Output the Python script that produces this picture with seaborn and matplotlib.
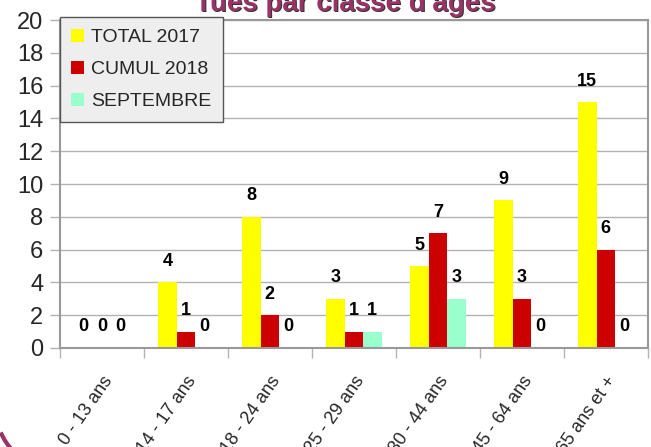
import matplotlib
matplotlib.use("Agg")
import matplotlib.pyplot as plt
import matplotlib.transforms as mtransforms
import seaborn as sns
import pandas as pd
from matplotlib.patches import Arc

categories = ["0 - 13 ans", "14 - 17 ans", "18 - 24 ans", "25 - 29 ans",
              "30 - 44 ans", "45 - 64 ans", "65 ans et +"]
series_names = ["TOTAL 2017", "CUMUL 2018", "SEPTEMBRE"]
total_2017 = [0, 4, 8, 3, 5, 9, 15]
cumul_2018 = [0, 1, 2, 1, 7, 3, 6]
septembre = [0, 0, 0, 1, 3, 0, 0]
colors = ["#ffff00", "#cc0000", "#99ffcc"]
y_ticks = list(range(0, 21, 2))
title = "Tués par classe d'âges"

rows = []
for name, vals in zip(series_names, [total_2017, cumul_2018, septembre]):
    for c, v in zip(categories, vals):
        rows.append({"cat": c, "serie": name, "val": v})
df = pd.DataFrame(rows)

sns.set_theme(style="white")
plt.rcParams["font.family"] = ["Liberation Sans", "DejaVu Sans"]

fig = plt.figure(figsize=(6.51, 4.47), dpi=100)
ax = fig.add_axes([0.092, 0.2215, 0.903, 0.7335])

sns.barplot(data=df, x="cat", y="val", hue="serie", order=categories,
            hue_order=series_names, palette=colors, width=0.66,
            saturation=1, linewidth=0, ax=ax, errorbar=None)

for cont in ax.containers:
    ax.bar_label(cont, fmt="%d", padding=9, fontsize=13, fontweight="bold",
                 color="black")

ax.set_ylim(0, 20)
ax.set_xlim(-0.5, 6.5)
ax.set_yticks(y_ticks)
ax.set_yticklabels([str(t) for t in y_ticks], fontsize=17)
ax.yaxis.grid(True, color="#b3b3b3", linewidth=1)
ax.set_axisbelow(True)
ax.tick_params(axis="y", length=7, width=1, color="#b3b3b3", pad=5, left=True)

ax.set_xticks([i - 0.5 for i in range(8)], minor=False)
ax.set_xticklabels([])
ax.tick_params(axis="x", which="major", length=7, width=1, color="#b3b3b3", bottom=True)
ax.set_xticks(range(len(categories)), minor=True)
ax.set_xticklabels(categories, minor=True, rotation=55, ha="right",
                   rotation_mode="anchor", fontsize=13)
ax.tick_params(axis="x", which="minor", length=0, pad=18)

for s in ax.spines.values():
    s.set_color("#999999")
    s.set_linewidth(1.5)
ax.set_xlabel("")
ax.set_ylabel("")

leg = ax.legend(loc="upper left", bbox_to_anchor=(-0.0005, 1.009), fontsize=14,
                frameon=True, fancybox=False, handlelength=0.65, handleheight=0.65,
                handletextpad=0.35, borderpad=0.6, borderaxespad=0,
                labelspacing=0.75)
leg.get_frame().set_facecolor("#eeeeee")
leg.get_frame().set_edgecolor("#555555")
leg.get_frame().set_linewidth(1)
leg.get_frame().set_alpha(1)

fig.text(0.532, 0.9735, title, ha="center", va="baseline", fontsize=20,
         fontweight="bold", color="#333333")
fig.text(0.530, 0.976, title, ha="center", va="baseline", fontsize=20,
         fontweight="bold", color="#993366")

arc = Arc((56, 38), 120, 120, theta1=203, theta2=226,
          transform=mtransforms.IdentityTransform(), color="#993366", linewidth=3)
fig.add_artist(arc)

fig.savefig("out.png", dpi=100)
